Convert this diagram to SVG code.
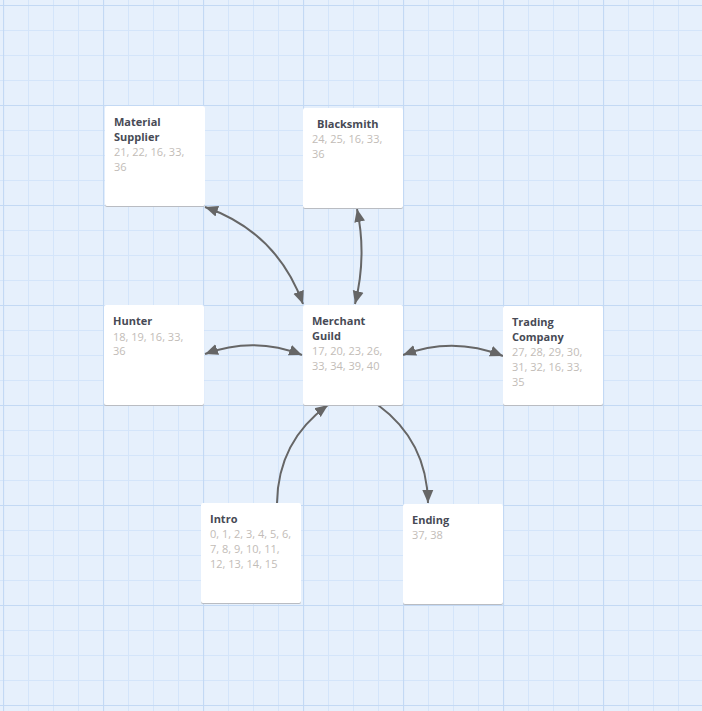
<svg xmlns="http://www.w3.org/2000/svg" width="702" height="711" viewBox="0 0 702 711">
<style>
.box{fill:#ffffff;}
.shadow{fill:#b9bcc2;}
.title{font-family:"Open Sans","Liberation Sans",sans-serif;font-size:11px;font-weight:bold;fill:#474a55;}
.nums{font-family:"Open Sans","Liberation Sans",sans-serif;font-size:11px;fill:#c2bcb7;}
.conn{fill:none;stroke:#666666;stroke-width:2;}
</style>
<defs>
<pattern id="grid" patternUnits="userSpaceOnUse" x="3" y="5" width="100" height="100">
<rect width="100" height="100" fill="#e6f0fc"/>
<path d="M25.5,0V100M50.5,0V100M75.5,0V100M0,25.5H100M0,50.5H100M0,75.5H100" stroke="#d4e5fa" stroke-width="1" fill="none"/>
<path d="M0.5,0V100M0,0.5H100" stroke="#c3d9f4" stroke-width="1.2" fill="none"/>
</pattern>
<marker id="arr" markerUnits="userSpaceOnUse" markerWidth="14" markerHeight="12" refX="13" refY="6" orient="auto-start-reverse" viewBox="0 0 14 12">
<path d="M0,0.5 L13,6 L0,11.5 z" fill="#666666"/>
</marker>
</defs>
<rect width="702" height="711" fill="url(#grid)"/>

<g id="connectors">
<path class="conn" d="M205,207 Q277,232 303,304" marker-start="url(#arr)" marker-end="url(#arr)"/>
<path class="conn" d="M357,209 Q367,256 355,304" marker-start="url(#arr)" marker-end="url(#arr)"/>
<path class="conn" d="M205,354 Q254,336 302,355" marker-start="url(#arr)" marker-end="url(#arr)"/>
<path class="conn" d="M403,355 Q453,336 503,356" marker-start="url(#arr)" marker-end="url(#arr)"/>
<path class="conn" d="M277,503 Q278,441 328,405" marker-end="url(#arr)"/>
<path class="conn" d="M378,405 Q427,441 428,503" marker-end="url(#arr)"/>
</g>

<g id="material-supplier">
<rect class="shadow" x="105" y="107" width="100" height="100" rx="2"/>
<rect class="box" x="105" y="106" width="100" height="100" rx="2"/>
<text class="title" x="114" y="126">Material</text>
<text class="title" x="114" y="141">Supplier</text>
<text class="nums" x="114" y="156">21, 22, 16, 33,</text>
<text class="nums" x="114" y="171">36</text>
</g>

<g id="blacksmith">
<rect class="shadow" x="303" y="109" width="100" height="100" rx="2"/>
<rect class="box" x="303" y="108" width="100" height="100" rx="2"/>
<text class="title" x="317" y="128">Blacksmith</text>
<text class="nums" x="312" y="143">24, 25, 16, 33,</text>
<text class="nums" x="312" y="158">36</text>
</g>

<g id="hunter">
<rect class="shadow" x="104" y="306" width="100" height="100" rx="2"/>
<rect class="box" x="104" y="305" width="100" height="100" rx="2"/>
<text class="title" x="113" y="325">Hunter</text>
<text class="nums" x="113" y="341">18, 19, 16, 33,</text>
<text class="nums" x="113" y="355">36</text>
</g>

<g id="merchant-guild">
<rect class="shadow" x="303" y="306" width="100" height="100" rx="2"/>
<rect class="box" x="303" y="305" width="100" height="100" rx="2"/>
<text class="title" x="312" y="325">Merchant</text>
<text class="title" x="312" y="340">Guild</text>
<text class="nums" x="312" y="355">17, 20, 23, 26,</text>
<text class="nums" x="312" y="370">33, 34, 39, 40</text>
</g>

<g id="trading-company">
<rect class="shadow" x="503" y="307" width="100" height="99" rx="2"/>
<rect class="box" x="503" y="306" width="100" height="99" rx="2"/>
<text class="title" x="512" y="326">Trading</text>
<text class="title" x="512" y="341">Company</text>
<text class="nums" x="512" y="356">27, 28, 29, 30,</text>
<text class="nums" x="512" y="371">31, 32, 16, 33,</text>
<text class="nums" x="512" y="386">35</text>
</g>

<g id="intro">
<rect class="shadow" x="201" y="504" width="100" height="100" rx="2"/>
<rect class="box" x="201" y="503" width="100" height="100" rx="2"/>
<text class="title" x="210" y="523">Intro</text>
<text class="nums" x="210" y="538">0, 1, 2, 3, 4, 5, 6,</text>
<text class="nums" x="210" y="553">7, 8, 9, 10, 11,</text>
<text class="nums" x="210" y="568">12, 13, 14, 15</text>
</g>

<g id="ending">
<rect class="shadow" x="403" y="505" width="100" height="100" rx="2"/>
<rect class="box" x="403" y="504" width="100" height="100" rx="2"/>
<text class="title" x="412" y="524">Ending</text>
<text class="nums" x="412" y="539">37, 38</text>
</g>
</svg>
